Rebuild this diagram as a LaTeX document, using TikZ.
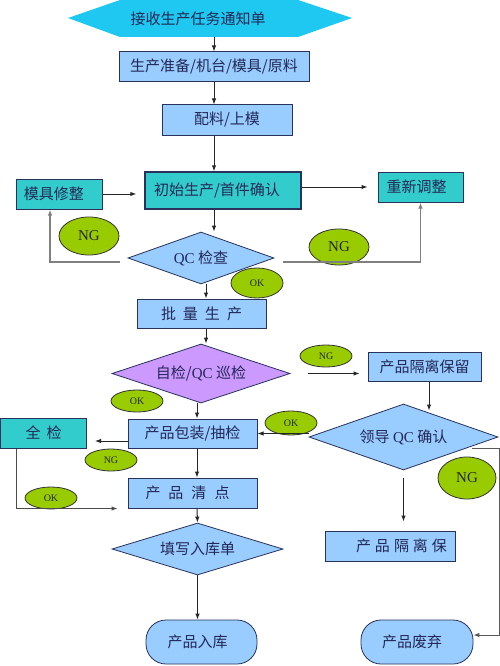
\documentclass[tikz,border=0pt]{standalone}
\usepackage{fontspec}
\setmainfont{Liberation Serif}
\newfontfamily\cjk{Noto Sans CJK SC}
\newfontfamily\lat{Liberation Serif}
\usetikzlibrary{shapes.geometric,arrows.meta,positioning}
\definecolor{lblue}{RGB}{153,204,255}
\definecolor{teal2}{RGB}{51,204,204}
\definecolor{violet2}{RGB}{204,153,255}
\definecolor{hexcol}{RGB}{30,200,240}
\definecolor{navy2}{RGB}{40,50,90}
\definecolor{txt}{RGB}{35,40,85}
\definecolor{green2}{RGB}{153,204,0}
\definecolor{ngline}{RGB}{128,128,128}
\tikzset{
  zh/.style={font=\cjk\fontsize{15}{15}\selectfont, text=txt},
  boxa/.style={zh, rectangle, draw=navy2, line width=1pt, fill=lblue, inner sep=0pt},
  boxt/.style={boxa, fill=teal2},
  dia/.style={zh, diamond, draw=navy2, line width=0.8pt, fill=lblue, inner sep=0pt, aspect=2.8},
  stad/.style={zh, rectangle, rounded corners=20pt, draw=navy2, line width=0.8pt, fill=lblue, inner sep=0pt},
  tag/.style={ellipse, draw=black!80, line width=0.8pt, fill=green2, inner sep=0pt, font=\lat\fontsize{10}{10}\selectfont, text=black!85},
  bigtag/.style={tag, font=\lat\fontsize{15}{15}\selectfont},
  arr/.style={draw=black!85, line width=1pt, -{Latex[length=6pt,width=4.5pt]}},
  nga/.style={draw=ngline, line width=1.3pt, -{Latex[length=6pt,width=4.5pt]}}
}
\begin{document}
\begin{tikzpicture}[x=1pt,y=-1pt]
\useasboundingbox (0,0) rectangle (500,666);
\fill[white] (0,0) rectangle (500,666);
% start hexagon
\fill[hexcol] (68,18) -- (120,0) -- (298,0) -- (352,18) -- (298,37) -- (120,37) -- cycle;
\node[zh, minimum height=37pt, inner sep=0pt] (start) at (198,18.5) {接收生产任务通知单};
% boxes
\node[boxa, minimum width=190pt, minimum height=30pt] (prep) at (214,67) {生产准备/机台/模具/原料};
\node[boxa, minimum width=130pt, minimum height=30pt] (mat) at (227,120) {配料/上模};
\node[boxt, line width=1.5pt, minimum width=156pt, minimum height=37pt] (init) at (223,190.5) {\hspace*{-12pt}初始生产/首件确认};
\node[boxt, minimum width=86pt, minimum height=30pt] (fix) at (59,194) {\hspace*{-10pt}模具修整};
\node[boxt, minimum width=85pt, minimum height=30pt] (readj) at (420.5,187) {\hspace*{-8pt}重新调整};
\node[dia, minimum width=146pt, minimum height=52pt] (qc) at (201,258) {{\lat QC} 检查};
\node[boxa, minimum width=129pt, minimum height=29pt] (batch) at (201.5,313.5) {批\hspace{7pt}量\hspace{7pt}生\hspace{7pt}产};
\node[dia, fill=violet2, aspect=3, minimum width=178pt, minimum height=59pt] (pqc) at (201,373.5) {自检/{\lat QC} 巡检};
\node[boxa, minimum width=113pt, minimum height=29pt] (iso) at (424.5,366.5) {产品隔离保留};
\node[dia, minimum width=189pt, minimum height=66pt] (lead) at (403.5,437) {领导 {\lat QC} 确认};
\node[boxa, minimum width=129pt, minimum height=29pt] (pack) at (192.5,433.5) {产品包装/抽检};
\node[boxt, minimum width=86pt, minimum height=30pt] (full) at (43.5,433) {全\hspace{6pt}检};
\node[boxa, minimum width=129pt, minimum height=30pt] (count) at (192.5,493) {\hspace*{-10pt}产\hspace{8pt}品\hspace{8pt}清\hspace{8pt}点};
\node[dia, minimum width=171pt, minimum height=52pt] (fill) at (197.5,549) {填写入库单};
\node[boxa, minimum width=130pt, minimum height=30pt] (keep) at (390.5,546) {\hspace*{22pt}产\hspace{4pt}品\hspace{4pt}隔\hspace{4pt}离\hspace{4pt}保};
\node[stad, minimum width=111pt, minimum height=44pt] (store) at (201.5,642) {\hspace*{-8pt}产品入库};
\node[stad, minimum width=112pt, minimum height=44pt] (scrap) at (417,642) {\hspace*{-10pt}产品废弃};
% tags
\node[bigtag, minimum width=60pt, minimum height=38pt] (ng1) at (89,236) {NG};
\node[bigtag, minimum width=60pt, minimum height=36pt] (ng2) at (339,247) {NG};
\node[tag, minimum width=52pt, minimum height=30pt] (ok1) at (257,283) {OK};
\node[tag, minimum width=52pt, minimum height=22pt] (ng3) at (326,356) {NG};
\node[tag, minimum width=52pt, minimum height=22pt] (ok2) at (137,401) {OK};
\node[tag, minimum width=52pt, minimum height=24pt] (ok4) at (291,423) {OK};
\node[tag, minimum width=52pt, minimum height=22pt] (ng5) at (111,460) {NG};
\node[tag, minimum width=52pt, minimum height=22pt] (ok3) at (51,498) {OK};
\node[bigtag, minimum width=58pt, minimum height=42pt] (ng4) at (467,478) {NG};
% connectors
\draw[arr] (start.south -| prep) -- (prep.north);
\draw[arr] (prep.south) -- (mat.north -| prep);
\draw[arr] (mat.south -| prep) -- (init.north -| prep);
\draw[arr, shorten >=8pt] (fix.east) -- (fix.east -| init.west);
\draw[arr, shorten >=10pt] (init.east |- readj) -- (readj.west);
\draw[arr] (init.south -| prep) -- (qc.north -| prep);
\draw[nga] ([xshift=-8pt,yshift=-4pt]qc.west) -| ([xshift=-9pt]fix.south);
\draw[nga] ([xshift=9pt,yshift=-4pt]qc.east) -| (readj.south);
\draw[arr] ([xshift=5pt]qc.south) -- ([xshift=4.5pt]batch.north);
\draw[arr] ([xshift=4.5pt]batch.south) -- ([xshift=5pt]pqc.north);
\draw[arr, shorten >=8pt] ([xshift=18pt]pqc.east) -- (iso.west |- pqc);
\draw[arr] ([xshift=4.5pt]iso.south) -- ++(0,29);
\draw[arr] (pack.east -| lead.west) -- (pack.east);
\draw[arr] ([xshift=4.5pt]pack.north |- pqc.south) -- ([xshift=4.5pt]pack.north);
\draw[arr, shorten >=8pt] ([yshift=-7.5pt]pack.west) -- ([yshift=-7.5pt]pack.west -| full.east);
\draw[arr, draw=black!70, shorten >=10pt] ([xshift=-27.5pt]full.south) |- (count.south west);
\draw[arr] ([xshift=4.5pt]pack.south) -- ([xshift=4.5pt]count.north);
\draw[arr] ([xshift=4.5pt]count.south) -- (fill.north);
\draw[arr] (fill.south) -- (fill.south |- store.north);
\draw[arr, shorten >=9pt] ([yshift=-8pt]lead.south) -- (lead.south |- keep.north);
\draw[arr, draw=black!65] ([xshift=-26pt,yshift=-11pt]lead.east) -- ++(27,0) |- ([yshift=7pt]scrap.east);
\end{tikzpicture}
\end{document}
